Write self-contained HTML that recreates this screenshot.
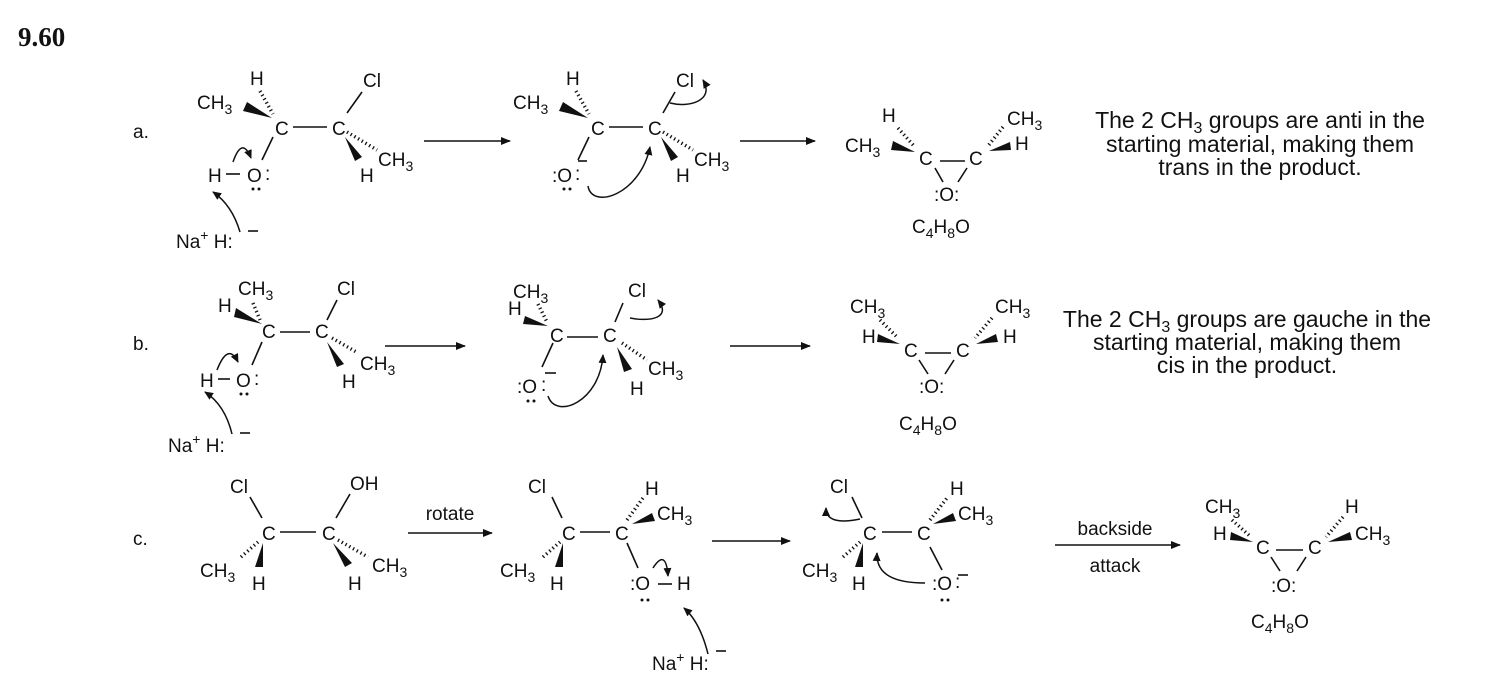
<!DOCTYPE html>
<html><head><meta charset="utf-8"><style>
html,body{margin:0;padding:0;background:#fff;}
svg{display:block;}
text{font-family:"Liberation Sans",sans-serif;font-size:19px;fill:#111;}
.t{font-size:23px;}
.ts{font-size:16px;}
.s{font-size:14px;}
line,path.b{stroke:#111;stroke-width:1.6;fill:none;}
.h{stroke:#111;stroke-width:3.5;stroke-dasharray:1.3 3;}
polygon{fill:#111;}
.arr{stroke:#111;stroke-width:1.5;fill:none;}
circle{fill:#111;}
</style></head><body>
<svg width="1500" height="684" viewBox="0 0 1500 684" xmlns="http://www.w3.org/2000/svg">
<defs>
<marker id="ah" markerWidth="10" markerHeight="8" refX="9" refY="4" orient="auto" markerUnits="userSpaceOnUse"><path d="M0,0 L10,4 L0,8 z" fill="#111"/></marker>
<marker id="ch" markerWidth="9" markerHeight="8" refX="8" refY="4" orient="auto" markerUnits="userSpaceOnUse"><path d="M0,0 L9,4 L0,8 z" fill="#111"/></marker>
</defs>
<text x="18" y="46" style="font-family:'Liberation Serif',serif;font-weight:bold;font-size:27px">9.60</text>

<!-- ROW A -->
<text x="133" y="138">a.</text>
<text x="197" y="109">CH<tspan class="s" dy="5">3</tspan></text>
<text x="250" y="85">H</text>
<text x="275" y="135">C</text><text x="332" y="135">C</text>
<line x1="293" y1="127" x2="327" y2="127"/>
<text x="363" y="87">Cl</text>
<line x1="362" y1="92" x2="347" y2="113"/>
<text x="378" y="166">CH<tspan class="s" dy="5">3</tspan></text>
<line class="h" x1="347" y1="132" x2="377" y2="150"/>
<polygon points="345,137 355,161 362,157"/>
<text x="360" y="182">H</text>
<polygon points="272,118 247,102 243,111"/>
<line class="h" x1="260" y1="91" x2="273" y2="114"/>
<line x1="273" y1="137" x2="262" y2="160"/>
<text x="208" y="182">H</text><line x1="226" y1="174" x2="240" y2="174"/>
<text x="247" y="182">O</text><text x="265" y="180">:</text>
<circle cx="253" cy="189" r="1.5"/><circle cx="259" cy="189" r="1.5"/>
<path class="arr" d="M233,162 Q242,136 251,158" marker-end="url(#ch)"/>
<text x="176" y="248">Na<tspan class="s" dy="-8">+</tspan><tspan dy="8"> H:</tspan></text>
<line x1="248" y1="231" x2="258" y2="231"/>
<path class="arr" d="M240,232 Q232,205 213,192" marker-end="url(#ch)"/>
<line class="arr" x1="424" y1="141" x2="510" y2="141" marker-end="url(#ah)"/>

<text x="513" y="109">CH<tspan class="s" dy="5">3</tspan></text>
<text x="566" y="85">H</text>
<text x="591" y="135">C</text><text x="648" y="135">C</text>
<line x1="609" y1="127" x2="643" y2="127"/>
<text x="676" y="87">Cl</text>
<line x1="675" y1="92" x2="663" y2="113"/>
<path class="arr" d="M670,103 C690,108 715,100 703,80" marker-end="url(#ch)"/>
<text x="694" y="166">CH<tspan class="s" dy="5">3</tspan></text>
<line class="h" x1="663" y1="132" x2="693" y2="150"/>
<polygon points="661,137 671,161 678,157"/>
<text x="676" y="182">H</text>
<polygon points="588,118 563,102 559,111"/>
<line class="h" x1="576" y1="91" x2="589" y2="114"/>
<line x1="589" y1="137" x2="578" y2="160"/>
<text x="552" y="182">:O</text><text x="575" y="180">:</text>
<line x1="578" y1="161" x2="587" y2="161"/>
<circle cx="564" cy="189" r="1.5"/><circle cx="570" cy="189" r="1.5"/>
<path class="arr" d="M588,186 C592,210 640,195 650,147" marker-end="url(#ch)"/>
<line class="arr" x1="740" y1="141" x2="815" y2="141" marker-end="url(#ah)"/>

<text x="882" y="122">H</text>
<text x="845" y="152">CH<tspan class="s" dy="5">3</tspan></text>
<polygon points="915,152 893,141 891,150"/>
<line class="h" x1="898" y1="128" x2="914" y2="146"/>
<text x="919" y="165">C</text><text x="969" y="165">C</text>
<line x1="940" y1="161" x2="965" y2="161"/>
<line x1="935" y1="168" x2="943" y2="182"/><line x1="967" y1="168" x2="958" y2="182"/>
<text x="934" y="201">:O:</text>
<text x="1007" y="125">CH<tspan class="s" dy="5">3</tspan></text>
<line class="h" x1="1003" y1="127" x2="988" y2="146"/>
<polygon points="989,151 1010,142 1011,150"/>
<text x="1015" y="150">H</text>
<text x="912" y="233">C<tspan class="s" dy="5">4</tspan><tspan dy="-5">H</tspan><tspan class="s" dy="5">8</tspan><tspan dy="-5">O</tspan></text>
<text class="t" x="1260" y="128" text-anchor="middle">The 2 CH<tspan class="ts" dy="5">3</tspan><tspan dy="-5"> groups are anti in the</tspan></text>
<text class="t" x="1260" y="152" text-anchor="middle">starting material, making them</text>
<text class="t" x="1260" y="175" text-anchor="middle">trans in the product.</text>

<!-- ROW B -->
<text x="133" y="350">b.</text>
<text x="238" y="295">CH<tspan class="s" dy="5">3</tspan></text>
<text x="218" y="312">H</text>
<polygon points="262,324 236,308 234,317"/>
<line class="h" x1="253" y1="303" x2="260" y2="320"/>
<text x="262" y="338">C</text><text x="315" y="338">C</text>
<line x1="280" y1="332" x2="310" y2="332"/>
<text x="337" y="295">Cl</text>
<line x1="337" y1="300" x2="327" y2="320"/>
<line class="h" x1="332" y1="338" x2="358" y2="353"/>
<text x="360" y="370">CH<tspan class="s" dy="5">3</tspan></text>
<polygon points="327,342 337,367 344,364"/>
<text x="342" y="388">H</text>
<line x1="262" y1="342" x2="252" y2="365"/>
<text x="200" y="387">H</text><line x1="218" y1="379" x2="230" y2="379"/>
<text x="236" y="387">O</text><text x="254" y="385">:</text>
<circle cx="241" cy="394" r="1.5"/><circle cx="247" cy="394" r="1.5"/>
<path class="arr" d="M217,370 Q228,342 238,362" marker-end="url(#ch)"/>
<text x="168" y="452">Na<tspan class="s" dy="-8">+</tspan><tspan dy="8"> H:</tspan></text>
<line x1="240" y1="433" x2="250" y2="433"/>
<path class="arr" d="M232,434 Q225,405 205,392" marker-end="url(#ch)"/>
<line class="arr" x1="385" y1="346" x2="465" y2="346" marker-end="url(#ah)"/>

<text x="513" y="298">CH<tspan class="s" dy="5">3</tspan></text>
<text x="508" y="315">H</text>
<polygon points="548,326 525,316 523,324"/>
<line class="h" x1="538" y1="304" x2="547" y2="322"/>
<text x="550" y="342">C</text><text x="603" y="342">C</text>
<line x1="567" y1="337" x2="598" y2="337"/>
<text x="628" y="297">Cl</text>
<line x1="623" y1="303" x2="615" y2="322"/>
<path class="arr" d="M630,318 C650,322 672,318 658,300" marker-end="url(#ch)"/>
<line class="h" x1="622" y1="343" x2="647" y2="360"/>
<text x="648" y="375">CH<tspan class="s" dy="5">3</tspan></text>
<polygon points="617,347 624,372 632,369"/>
<text x="630" y="395">H</text>
<line x1="553" y1="343" x2="542" y2="367"/>
<text x="517" y="393">:O</text><text x="541" y="391">:</text>
<line x1="545" y1="373" x2="556" y2="373"/>
<circle cx="528" cy="401" r="1.5"/><circle cx="534" cy="401" r="1.5"/>
<path class="arr" d="M548,396 C556,420 600,402 603,355" marker-end="url(#ch)"/>
<line class="arr" x1="730" y1="346" x2="810" y2="346" marker-end="url(#ah)"/>

<text x="850" y="313">CH<tspan class="s" dy="5">3</tspan></text>
<text x="862" y="343">H</text>
<polygon points="900,344 878,334 877,342"/>
<line class="h" x1="880" y1="320" x2="898" y2="338"/>
<text x="904" y="357">C</text><text x="956" y="357">C</text>
<line x1="925" y1="353" x2="951" y2="353"/>
<line x1="919" y1="360" x2="928" y2="374"/><line x1="954" y1="360" x2="945" y2="374"/>
<text x="919" y="393">:O:</text>
<text x="995" y="313">CH<tspan class="s" dy="5">3</tspan></text>
<line class="h" x1="992" y1="318" x2="975" y2="338"/>
<polygon points="976,344 996,334 998,342"/>
<text x="1003" y="343">H</text>
<text x="899" y="430">C<tspan class="s" dy="5">4</tspan><tspan dy="-5">H</tspan><tspan class="s" dy="5">8</tspan><tspan dy="-5">O</tspan></text>
<text class="t" x="1247" y="327" text-anchor="middle">The 2 CH<tspan class="ts" dy="5">3</tspan><tspan dy="-5"> groups are gauche in the</tspan></text>
<text class="t" x="1247" y="350" text-anchor="middle">starting material, making them</text>
<text class="t" x="1247" y="373" text-anchor="middle">cis in the product.</text>

<!-- ROW C -->
<text x="133" y="545">c.</text>
<text x="230" y="493">Cl</text>
<line x1="250" y1="497" x2="262" y2="518"/>
<text x="262" y="540">C</text><text x="322" y="540">C</text>
<line x1="280" y1="532" x2="316" y2="532"/>
<text x="350" y="490">OH</text>
<line x1="350" y1="494" x2="336" y2="518"/>
<line class="h" x1="241" y1="557" x2="258" y2="542"/>
<text x="200" y="577">CH<tspan class="s" dy="5">3</tspan></text>
<polygon points="263,543 255,567 263,567"/>
<text x="252" y="590">H</text>
<line class="h" x1="338" y1="540" x2="368" y2="557"/>
<text x="372" y="572">CH<tspan class="s" dy="5">3</tspan></text>
<polygon points="333,543 345,567 352,563"/>
<text x="348" y="590">H</text>
<text x="450" y="520" text-anchor="middle">rotate</text>
<line class="arr" x1="408" y1="533" x2="492" y2="533" marker-end="url(#ah)"/>

<text x="528" y="493">Cl</text>
<line x1="552" y1="497" x2="562" y2="518"/>
<text x="562" y="540">C</text><text x="615" y="540">C</text>
<line x1="580" y1="532" x2="610" y2="532"/>
<text x="645" y="495">H</text>
<line class="h" x1="627" y1="520" x2="643" y2="498"/>
<polygon points="632,524 652,513 655,521"/>
<text x="657" y="520">CH<tspan class="s" dy="5">3</tspan></text>
<line x1="627" y1="543" x2="638" y2="568"/>
<text x="630" y="590">:O</text><line x1="658" y1="584" x2="672" y2="584"/><text x="677" y="590">H</text>
<circle cx="642" cy="600" r="1.5"/><circle cx="648" cy="600" r="1.5"/>
<path class="arr" d="M653,568 Q666,548 668,576" marker-end="url(#ch)"/>
<line class="h" x1="543" y1="557" x2="560" y2="542"/>
<text x="500" y="577">CH<tspan class="s" dy="5">3</tspan></text>
<polygon points="563,543 555,567 563,567"/>
<text x="550" y="590">H</text>
<text x="652" y="670">Na<tspan class="s" dy="-8">+</tspan><tspan dy="8"> H:</tspan></text>
<line x1="716" y1="651" x2="726" y2="651"/>
<path class="arr" d="M708,654 Q700,622 684,608" marker-end="url(#ch)"/>
<line class="arr" x1="712" y1="541" x2="790" y2="541" marker-end="url(#ah)"/>

<text x="830" y="493">Cl</text>
<line x1="852" y1="497" x2="862" y2="518"/>
<path class="arr" d="M860,519 Q826,526 826,508" marker-end="url(#ch)"/>
<text x="863" y="540">C</text><text x="917" y="540">C</text>
<line x1="882" y1="532" x2="912" y2="532"/>
<text x="950" y="495">H</text>
<line class="h" x1="930" y1="520" x2="947" y2="498"/>
<polygon points="933,524 953,513 956,521"/>
<text x="958" y="520">CH<tspan class="s" dy="5">3</tspan></text>
<line x1="930" y1="547" x2="942" y2="570"/>
<text x="932" y="590">:O</text><text x="955" y="588">:</text>
<line x1="958" y1="575" x2="968" y2="575"/>
<circle cx="942" cy="600" r="1.5"/><circle cx="948" cy="600" r="1.5"/>
<path class="arr" d="M925,583 C895,583 876,575 877,553" marker-end="url(#ch)"/>
<line class="h" x1="843" y1="557" x2="860" y2="542"/>
<text x="802" y="577">CH<tspan class="s" dy="5">3</tspan></text>
<polygon points="863,543 855,567 863,567"/>
<text x="852" y="590">H</text>
<text x="1115" y="535" text-anchor="middle">backside</text>
<text x="1115" y="572" text-anchor="middle">attack</text>
<line class="arr" x1="1055" y1="545" x2="1180" y2="545" marker-end="url(#ah)"/>

<text x="1205" y="513">CH<tspan class="s" dy="5">3</tspan></text>
<text x="1213" y="540">H</text>
<polygon points="1253,542 1231,532 1230,540"/>
<line class="h" x1="1232" y1="520" x2="1251" y2="537"/>
<text x="1256" y="554">C</text><text x="1308" y="554">C</text>
<line x1="1276" y1="550" x2="1303" y2="550"/>
<line x1="1271" y1="557" x2="1280" y2="571"/><line x1="1306" y1="557" x2="1297" y2="571"/>
<text x="1271" y="592">:O:</text>
<text x="1345" y="513">H</text>
<line class="h" x1="1343" y1="517" x2="1326" y2="537"/>
<polygon points="1328,542 1350,532 1352,540"/>
<text x="1355" y="540">CH<tspan class="s" dy="5">3</tspan></text>
<text x="1251" y="628">C<tspan class="s" dy="5">4</tspan><tspan dy="-5">H</tspan><tspan class="s" dy="5">8</tspan><tspan dy="-5">O</tspan></text>
</svg>
</body></html>
